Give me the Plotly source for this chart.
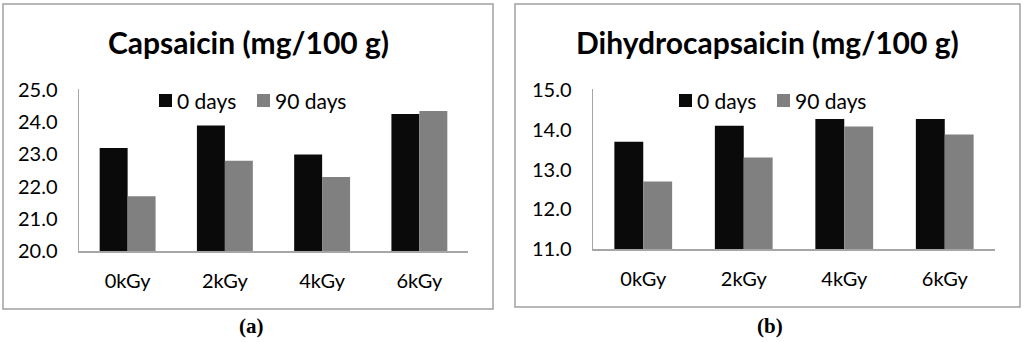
import plotly.graph_objects as go

W, H = 1024, 342

categories = ["0kGy", "2kGy", "4kGy", "6kGy"]
series_names = ["0 days", "90 days"]
capsaicin_0d = [23.2, 23.9, 23.0, 24.25]
capsaicin_90d = [21.7, 22.8, 22.3, 24.35]
dihydro_0d = [13.7, 14.1, 14.27, 14.27]
dihydro_90d = [12.7, 13.3, 14.08, 13.88]
cap_ticks = [20.0, 21.0, 22.0, 23.0, 24.0, 25.0]
dih_ticks = [11.0, 12.0, 13.0, 14.0, 15.0]
titles = ["Capsaicin (mg/100 g)", "Dihydrocapsaicin (mg/100 g)"]
panel_labels = ["(a)", "(b)"]

BLACK = "#0a0a0a"
GRAY = "#808080"
AXIS = "#a6a6a6"
BORDER = "#a0a0a0"
FONT = "Lato"
COLORS = [BLACK, GRAY]

def px(x):
    return x / W

def py(y):
    return 1 - y / H

fig = go.Figure()

fig.add_trace(go.Bar(x=categories, y=capsaicin_0d, name=series_names[0], marker_color=BLACK,
                     xaxis="x", yaxis="y", showlegend=False))
fig.add_trace(go.Bar(x=categories, y=capsaicin_90d, name=series_names[1], marker_color=GRAY,
                     xaxis="x", yaxis="y", showlegend=False))
fig.add_trace(go.Bar(x=categories, y=dihydro_0d, name=series_names[0], marker_color=BLACK,
                     xaxis="x2", yaxis="y2", showlegend=False))
fig.add_trace(go.Bar(x=categories, y=dihydro_90d, name=series_names[1], marker_color=GRAY,
                     xaxis="x2", yaxis="y2", showlegend=False))

tickfont = dict(family=FONT, size=20, color="#000000")

xcommon = dict(showline=True, linecolor=AXIS, linewidth=1.5, ticks="", showgrid=False,
               zeroline=False, tickfont=tickfont, ticklabelstandoff=11, automargin=False)
ycommon = dict(showline=True, linecolor=AXIS, linewidth=1.5, ticks="", showgrid=False,
               zeroline=False, tickfont=tickfont, ticklabelstandoff=16, tickformat=".1f",
               automargin=False)

fig.update_layout(
    template="none",
    width=W, height=H,
    margin=dict(l=0, r=0, t=0, b=0, pad=0),
    paper_bgcolor="white", plot_bgcolor="white",
    barmode="group", bargap=0.425, bargroupgap=0,
    xaxis=dict(domain=[px(79), px(468)], anchor="y", **xcommon),
    yaxis=dict(domain=[py(251), py(89)], anchor="x", range=[20, 25.03],
               tickvals=cap_ticks, **ycommon),
    xaxis2=dict(domain=[px(593), px(995)], anchor="y2", **xcommon),
    yaxis2=dict(domain=[py(249.3), py(89)], anchor="x2", range=[11, 15.02],
                tickvals=dih_ticks, **ycommon),
    showlegend=False,
)

# panel borders
fig.add_shape(type="rect", xref="paper", yref="paper", x0=px(3), x1=px(493), y0=py(309), y1=py(4),
              line=dict(color=BORDER, width=1.5), layer="below")
fig.add_shape(type="rect", xref="paper", yref="paper", x0=px(515), x1=px(1020), y0=py(307), y1=py(4),
              line=dict(color=BORDER, width=1.5), layer="below")

# legends (one per panel)
for lx in [159, 679]:
    for i, (name, col) in enumerate(zip(series_names, COLORS)):
        sx = lx + i * 98
        fig.add_shape(type="rect", xref="paper", yref="paper",
                      x0=px(sx), x1=px(sx + 13), y0=py(107), y1=py(94),
                      line=dict(width=0), fillcolor=col)
        fig.add_annotation(text=name, xref="paper", yref="paper", x=px(sx + 16), y=py(100.5),
                           xanchor="left", yanchor="middle", showarrow=False,
                           font=dict(family=FONT, size=21, color="#000"))

# titles
for t, cx in zip(titles, [248, 767.5]):
    fig.add_annotation(text="<b>%s</b>" % t, xref="paper", yref="paper", x=px(cx), y=py(42),
                       xanchor="center", yanchor="middle", showarrow=False,
                       font=dict(family=FONT, size=30, color="#000"))

for t, cx in zip(panel_labels, [251, 770]):
    fig.add_annotation(text="<b>%s</b>" % t, xref="paper", yref="paper", x=px(cx), y=py(326),
                       xanchor="center", yanchor="middle", showarrow=False,
                       font=dict(family="Liberation Serif", size=21, color="#000"))

fig.write_html(
    "out.html",
    config={"displayModeBar": False, "staticPlot": True},
    post_script="document.body.style.margin='0';document.documentElement.style.overflow='hidden';",
)
